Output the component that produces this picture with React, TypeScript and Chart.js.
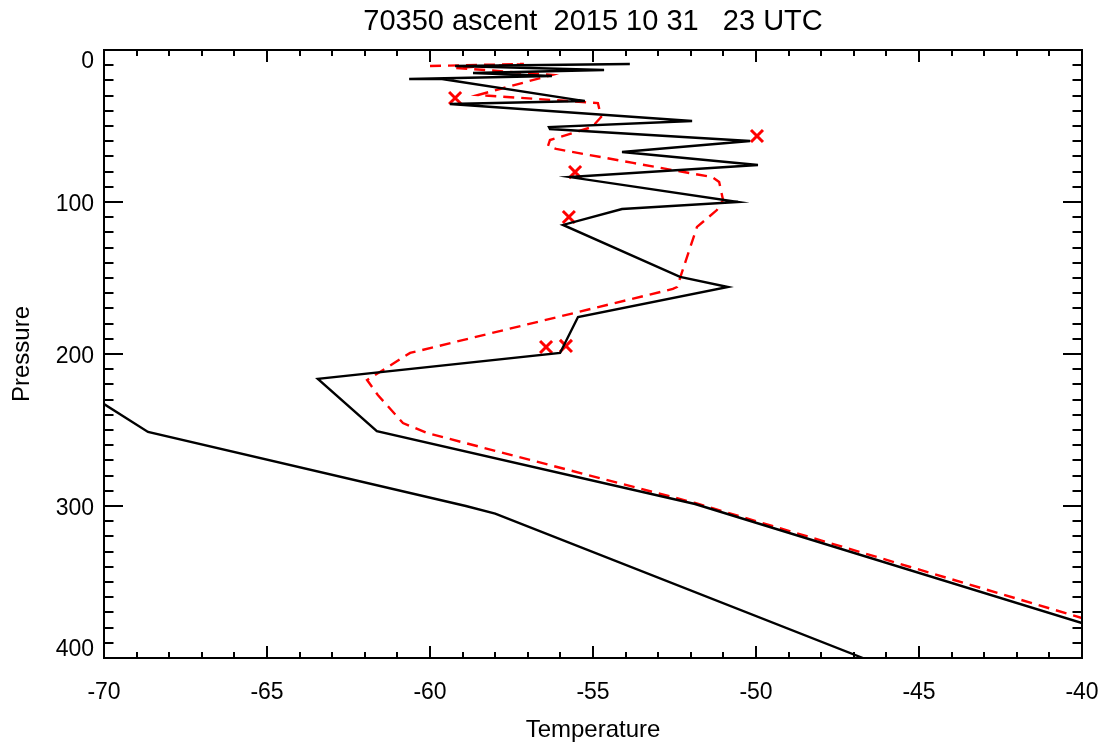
import React, { useEffect, useRef } from "react";
import { Chart, registerables } from "chart.js";

Chart.register(...registerables);

const TITLE = "70350 ascent  2015 10 31   23 UTC";
const X_TITLE = "Temperature";
const Y_TITLE = "Pressure";
const X_TICKS = [-70, -65, -60, -55, -50, -45, -40];
const Y_TICKS = [0, 100, 200, 300, 400];

// Main temperature profile (black, solid)
const mainT = [-53.87, -59.23, -54.66, -58.68, -56.26, -60.64, -59.63, -55.25, -59.39, -51.96, -56.35, -56.32, -50.18, -54.11, -49.94, -55.71, -50.55, -54.11, -55.92, -52.33, -50.86, -55.46, -56.01, -63.44, -61.63, -51.87, -40.0];
const mainP = [9.2, 10.5, 13.2, 15.1, 17.1, 19.1, 19.1, 33.6, 35.5, 46.7, 50.7, 52.0, 59.9, 67.1, 75.7, 83.6, 100.0, 104.6, 115.1, 149.3, 155.9, 175.7, 199.3, 216.4, 250.7, 298.7, 377.0];

// Second profile (red, dashed)
const dashT = [-60.0, -57.12, -59.2, -56.26, -58.53, -54.85, -54.75, -55.03, -56.32, -56.38, -56.13, -53.77, -51.35, -51.13, -51.01, -51.2, -51.81, -52.42, -52.55, -60.61, -61.93, -61.6, -60.83, -60.09, -51.87, -40.0];
const dashP = [10.5, 9.2, 11.8, 16.4, 29.6, 34.9, 44.1, 50.7, 59.2, 63.2, 65.1, 74.3, 83.6, 86.8, 98.7, 105.3, 116.4, 155.9, 157.2, 199.3, 217.1, 227.0, 245.4, 252.0, 298.0, 373.7];

// Lower profile (black, solid)
const lowT = [-70.0, -68.65, -58.9, -58.0, -46.72];
const lowP = [232.9, 251.3, 300.0, 305.0, 400.0];

// Red X markers
const markT = [-59.23, -49.97, -55.55, -55.74, -56.44, -55.83];
const markP = [31.6, 56.6, 80.3, 109.9, 195.4, 194.7];

const zip = (xs: number[], ys: number[]) => xs.map((x, i) => ({ x, y: ys[i] }));

const FONT = "'Liberation Sans', Arial, Helvetica, sans-serif";

const framePlugin = {
  id: "idlFrame",
  afterDraw(chart: any) {
    const { ctx, chartArea } = chart;
    const xs = chart.scales.x;
    const ys = chart.scales.y;
    const { left, right, top, bottom } = chartArea;
    ctx.save();
    ctx.strokeStyle = "#000";
    ctx.lineWidth = 2;
    ctx.strokeRect(left, top, right - left, bottom - top);

    ctx.beginPath();
    for (let v = X_TICKS[0]; v <= X_TICKS[X_TICKS.length - 1]; v += 1) {
      const px = Math.round(xs.getPixelForValue(v));
      const len = v % 5 === 0 ? 12 : 6;
      ctx.moveTo(px, bottom);
      ctx.lineTo(px, bottom - len);
      ctx.moveTo(px, top);
      ctx.lineTo(px, top + len);
    }
    for (let p = Y_TICKS[0]; p <= Y_TICKS[Y_TICKS.length - 1]; p += 10) {
      const py = Math.round(ys.getPixelForValue(p));
      const len = p % 100 === 0 ? 19 : 9.5;
      ctx.moveTo(left, py);
      ctx.lineTo(left + len, py);
      ctx.moveTo(right, py);
      ctx.lineTo(right - len, py);
    }
    ctx.stroke();

    ctx.fillStyle = "#000";
    ctx.font = `23px ${FONT}`;
    ctx.textAlign = "center";
    ctx.textBaseline = "middle";
    X_TICKS.forEach((v) => {
      ctx.fillText(String(v), xs.getPixelForValue(v), bottom + 35);
    });
    ctx.textAlign = "right";
    Y_TICKS.forEach((p, i) => {
      let off = 3;
      if (i === 0) off = 12;
      if (i === Y_TICKS.length - 1) off = -8;
      ctx.fillText(String(p), left - 10, ys.getPixelForValue(p) + off);
    });

    ctx.textAlign = "center";
    ctx.font = `24px ${FONT}`;
    ctx.fillText(X_TITLE, (left + right) / 2, bottom + 72);
    ctx.save();
    ctx.translate(22, (top + bottom) / 2);
    ctx.rotate(-Math.PI / 2);
    ctx.fillText(Y_TITLE, 0, 0);
    ctx.restore();

    ctx.font = `29px ${FONT}`;
    ctx.fillText(TITLE, (left + right) / 2, 22);
    ctx.restore();
  },
};

export default function App() {
  const ref = useRef<HTMLCanvasElement | null>(null);
  useEffect(() => {
    document.body.style.margin = "0";
    document.body.style.background = "#fff";
    const canvas = ref.current;
    if (!canvas) return;
    const chart = new Chart(canvas, {
      type: "scatter",
      data: {
        datasets: [
          {
            label: "lower",
            data: zip(lowT, lowP),
            showLine: true,
            borderColor: "#000",
            borderWidth: 2.4,
            pointRadius: 0,
            fill: false,
          },
          {
            label: "temperature",
            data: zip(mainT, mainP),
            showLine: true,
            borderColor: "#000",
            borderWidth: 2.4,
            pointRadius: 0,
            fill: false,
          },
          {
            label: "dashed",
            data: zip(dashT, dashP),
            showLine: true,
            borderColor: "#ff0000",
            borderWidth: 2.4,
            borderDash: [11, 7],
            pointRadius: 0,
            fill: false,
          },
          {
            label: "marks",
            data: zip(markT, markP),
            showLine: false,
            pointStyle: "crossRot",
            pointRadius: 8.5,
            pointBorderColor: "#ff0000",
            pointBorderWidth: 3,
            pointBackgroundColor: "#ff0000",
          },
        ],
      },
      options: {
        animation: false,
        responsive: false,
        devicePixelRatio: 1,
        layout: { padding: { left: 104, right: 23, top: 50, bottom: 85 } },
        plugins: {
          legend: { display: false },
          tooltip: { enabled: false },
          title: { display: false },
        },
        scales: {
          x: { type: "linear", min: -70, max: -40, display: false },
          y: { type: "linear", min: 0, max: 400, reverse: true, display: false },
        },
        elements: { line: { tension: 0 } },
      },
      plugins: [framePlugin],
    });
    return () => chart.destroy();
  }, []);
  return (
    <div style={{ width: 1105, height: 743, background: "#fff" }}>
      <canvas ref={ref} width={1105} height={743} />
    </div>
  );
}
